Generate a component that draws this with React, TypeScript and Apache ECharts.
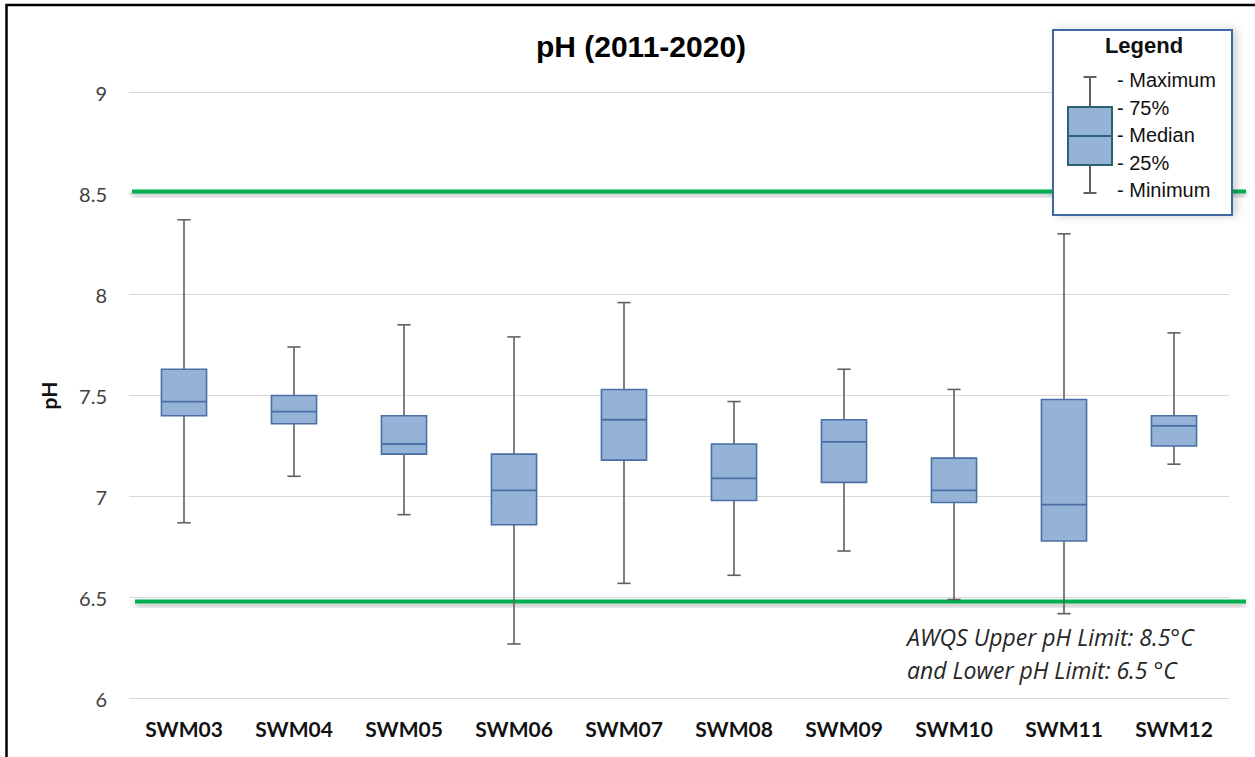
import React, { useEffect, useRef } from 'react';
import * as echarts from 'echarts';

const categories = ['SWM03', 'SWM04', 'SWM05', 'SWM06', 'SWM07', 'SWM08', 'SWM09', 'SWM10', 'SWM11', 'SWM12'];
const minVals = [6.87, 7.1, 6.91, 6.27, 6.57, 6.61, 6.73, 6.49, 6.42, 7.16];
const q1Vals = [7.4, 7.36, 7.21, 6.86, 7.18, 6.98, 7.07, 6.97, 6.78, 7.25];
const medianVals = [7.47, 7.42, 7.26, 7.03, 7.38, 7.09, 7.27, 7.03, 6.96, 7.35];
const q3Vals = [7.63, 7.5, 7.4, 7.21, 7.53, 7.26, 7.38, 7.19, 7.48, 7.4];
const maxVals = [8.37, 7.74, 7.85, 7.79, 7.96, 7.47, 7.63, 7.53, 8.3, 7.81];

const upperLimit = 8.51;
const lowerLimit = 6.48;
const yMin = 6;
const yMax = 9;
const yInterval = 0.5;

const titleText = 'pH (2011-2020)';
const yAxisName = 'pH';
const legendTitle = 'Legend';
const legendLabels = ['- Maximum', '- 75%', '- Median', '- 25%', '- Minimum'];
const annotationLines = ['AWQS Upper pH Limit: 8.5°C', 'and Lower pH Limit: 6.5 °C'];

const BOX_FILL = '#95B3D7';
const BOX_BORDER = '#4A6FA5';
const WHISKER = '#606060';
const GREEN = '#00B050';

export default function App() {
  const ref = useRef<HTMLDivElement>(null);

  useEffect(() => {
    if (!ref.current) return;
    const chart = echarts.init(ref.current, null, { renderer: 'svg' });
    const data = categories.map((c, i) => [i, minVals[i], q1Vals[i], medianVals[i], q3Vals[i], maxVals[i]]);

    const renderItem = (params: any, api: any) => {
      const idx = api.value(0);
      const x = api.coord([idx, api.value(1)])[0];
      const yMinP = api.coord([idx, api.value(1)])[1];
      const yQ1 = api.coord([idx, api.value(2)])[1];
      const yMed = api.coord([idx, api.value(3)])[1];
      const yQ3 = api.coord([idx, api.value(4)])[1];
      const yMaxP = api.coord([idx, api.value(5)])[1];
      const band = api.size([1, 0])[0];
      const bw = band * 0.41;
      const cw = band * 0.12;
      const wStyle = { stroke: WHISKER, lineWidth: 1.6 };
      return {
        type: 'group',
        children: [
          { type: 'line', shape: { x1: x, y1: yMaxP, x2: x, y2: yQ3 }, style: wStyle },
          { type: 'line', shape: { x1: x, y1: yQ1, x2: x, y2: yMinP }, style: wStyle },
          { type: 'line', shape: { x1: x - cw / 2, y1: yMaxP, x2: x + cw / 2, y2: yMaxP }, style: wStyle },
          { type: 'line', shape: { x1: x - cw / 2, y1: yMinP, x2: x + cw / 2, y2: yMinP }, style: wStyle },
          {
            type: 'rect',
            shape: { x: x - bw / 2, y: yQ3, width: bw, height: yQ1 - yQ3 },
            style: { fill: BOX_FILL, stroke: BOX_BORDER, lineWidth: 1.6 },
          },
          {
            type: 'line',
            shape: { x1: x - bw / 2, y1: yMed, x2: x + bw / 2, y2: yMed },
            style: { stroke: BOX_BORDER, lineWidth: 1.8 },
          },
        ],
      };
    };

    chart.setOption({
      animation: false,
      backgroundColor: '#ffffff',
      grid: { left: 129, right: 26, top: 92.5, bottom: 58.5 },
      xAxis: {
        type: 'category',
        data: categories,
        axisLine: { show: false },
        axisTick: { show: false },
        splitLine: { show: false },
        axisLabel: {
          margin: 19,
          fontFamily: 'Lato',
          fontWeight: 'bold',
          fontSize: 21,
          color: '#111111',
        },
      },
      yAxis: {
        type: 'value',
        min: yMin,
        max: yMax,
        interval: yInterval,
        name: yAxisName,
        nameLocation: 'middle',
        nameGap: 70,
        nameTextStyle: { fontFamily: 'Lato', fontWeight: 'bold', fontSize: 21, color: '#111111' },
        axisLine: { show: false },
        axisTick: { show: false },
        axisLabel: {
          margin: 22,
          fontFamily: 'Lato',
          fontSize: 20,
          color: '#404040',
        },
        splitLine: { lineStyle: { color: '#D9D9D9', width: 1.2 } },
      },
      series: [
        {
          type: 'custom',
          name: 'pH',
          data,
          renderItem,
          encode: { x: 0, y: [1, 2, 3, 4, 5] },
          z: 3,
        },
      ],
    });

    const upPt = chart.convertToPixel({ seriesIndex: 0 }, [0, upperLimit]) as any;
    const lowPt = chart.convertToPixel({ seriesIndex: 0 }, [0, lowerLimit]) as any;
    const yUp = Array.isArray(upPt) && isFinite(upPt[1]) ? upPt[1] : 190;
    const yLow = Array.isArray(lowPt) && isFinite(lowPt[1]) ? lowPt[1] : 602;
    const greenStyle = {
      fill: GREEN,
      shadowBlur: 5,
      shadowColor: 'rgba(0,0,0,0.28)',
      shadowOffsetY: 3,
    };

    const legendX = 1053;
    const legendY = 30;
    const labelYs = [80, 107.5, 135, 162.5, 190];

    chart.setOption({
      graphic: [
        {
          type: 'rect',
          z: 0,
          shape: { x: 6.5, y: 5, width: 1270, height: 790 },
          style: { fill: 'none', stroke: '#000000', lineWidth: 2.5 },
          silent: true,
        },
        {
          type: 'rect',
          z: 1,
          shape: { x: 132, y: yUp - 2, width: 1114, height: 4 },
          style: greenStyle,
          silent: true,
        },
        {
          type: 'rect',
          z: 1,
          shape: { x: 135, y: yLow - 2, width: 1111, height: 4 },
          style: greenStyle,
          silent: true,
        },
        {
          type: 'text',
          z: 5,
          style: {
            text: titleText,
            x: 641,
            y: 46,
            textAlign: 'center',
            textVerticalAlign: 'middle',
            font: 'bold 30px "Liberation Sans", Arial, sans-serif',
            fill: '#000000',
          },
        },
        ...annotationLines.map((t, i) => ({
          type: 'text',
          z: 5,
          style: {
            text: t,
            x: 907,
            y: 637 + i * 33,
            textAlign: 'left',
            textVerticalAlign: 'middle',
            font: 'italic 23px "Open Sans", sans-serif',
            fill: '#262626',
          },
        })),
        {
          type: 'group',
          z: 10,
          children: [
            {
              type: 'rect',
              z: 10,
              shape: { x: legendX, y: legendY, width: 179, height: 185 },
              style: {
                fill: '#ffffff',
                stroke: '#3F68A3',
                lineWidth: 2,
                shadowBlur: 8,
                shadowColor: 'rgba(0,0,0,0.18)',
                shadowOffsetX: 4,
              },
            },
            {
              type: 'text',
              z: 11,
              style: {
                text: legendTitle,
                x: 1144,
                y: 45,
                textAlign: 'center',
                textVerticalAlign: 'middle',
                font: 'bold 22px "Liberation Sans", Arial, sans-serif',
                fill: '#111111',
              },
            },
            { type: 'line', z: 11, shape: { x1: 1090, y1: 77, x2: 1090, y2: 107 }, style: { stroke: WHISKER, lineWidth: 2 } },
            { type: 'line', z: 11, shape: { x1: 1090, y1: 165, x2: 1090, y2: 193 }, style: { stroke: WHISKER, lineWidth: 2 } },
            { type: 'line', z: 11, shape: { x1: 1083.5, y1: 77, x2: 1096.5, y2: 77 }, style: { stroke: WHISKER, lineWidth: 2 } },
            { type: 'line', z: 11, shape: { x1: 1083.5, y1: 193, x2: 1096.5, y2: 193 }, style: { stroke: WHISKER, lineWidth: 2 } },
            {
              type: 'rect',
              z: 11,
              shape: { x: 1068, y: 107, width: 44, height: 58 },
              style: { fill: BOX_FILL, stroke: '#2F6174', lineWidth: 2 },
            },
            { type: 'line', z: 12, shape: { x1: 1068, y1: 136, x2: 1112, y2: 136 }, style: { stroke: '#2F6174', lineWidth: 2 } },
            ...legendLabels.map((t, i) => ({
              type: 'text',
              z: 11,
              style: {
                text: t,
                x: 1117,
                y: labelYs[i],
                textAlign: 'left',
                textVerticalAlign: 'middle',
                font: '20px "Liberation Sans", Arial, sans-serif',
                fill: '#111111',
              },
            })),
          ],
        },
      ],
    });

    return () => {
      chart.dispose();
    };
  }, []);

  return (
    <div
      ref={ref}
      style={{ position: 'absolute', left: 0, top: 0, width: 1255, height: 757, background: '#fff' }}
    />
  );
}
